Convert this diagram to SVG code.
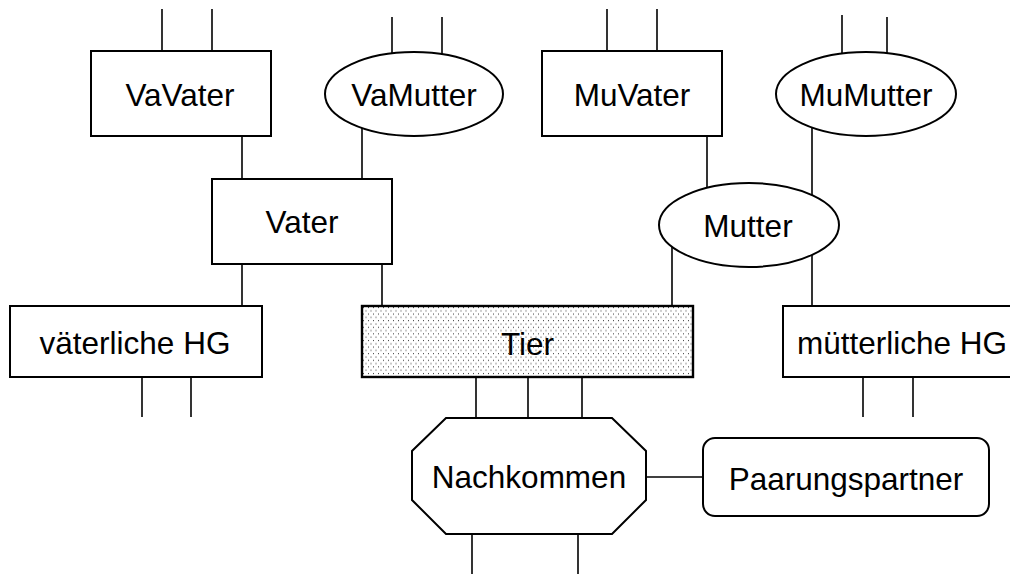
<svg xmlns="http://www.w3.org/2000/svg" width="1010" height="574" viewBox="0 0 1010 574">
<defs>
<pattern id="dots" x="362" y="306" width="5" height="6.6" patternUnits="userSpaceOnUse">
<rect x="1" y="1" width="1" height="1" fill="#333"/>
<rect x="3.5" y="4.3" width="1" height="1" fill="#333"/>
</pattern>
<style>
.n{fill:#fff;stroke:#000;stroke-width:2}
.c line{stroke:#000;stroke-width:1.6}
text{font-family:"Liberation Sans",Arial,sans-serif;font-size:31.5px;fill:#000;text-anchor:middle}
</style>
</defs>
<rect width="1010" height="574" fill="#fff"/>
<g id="connectors" class="c">
<line x1="162" y1="9" x2="162" y2="51"/>
<line x1="212" y1="9" x2="212" y2="51"/>
<line x1="392" y1="17" x2="392" y2="60"/>
<line x1="442" y1="17" x2="442" y2="60"/>
<line x1="607" y1="9" x2="607" y2="51"/>
<line x1="657" y1="9" x2="657" y2="51"/>
<line x1="842" y1="15" x2="842" y2="60"/>
<line x1="887" y1="17" x2="887" y2="60"/>
<line x1="242" y1="136" x2="242" y2="179"/>
<line x1="362" y1="120" x2="362" y2="179"/>
<line x1="707" y1="136" x2="707" y2="200"/>
<line x1="812" y1="120" x2="812" y2="306"/>
<line x1="242" y1="264" x2="242" y2="306"/>
<line x1="382" y1="264" x2="382" y2="306"/>
<line x1="672" y1="240" x2="672" y2="306"/>
<line x1="142" y1="377" x2="142" y2="417"/>
<line x1="191" y1="377" x2="191" y2="417"/>
<line x1="863" y1="377" x2="863" y2="417"/>
<line x1="913" y1="377" x2="913" y2="417"/>
<line x1="476" y1="377" x2="476" y2="418"/>
<line x1="528" y1="377" x2="528" y2="418"/>
<line x1="582" y1="377" x2="582" y2="418"/>
<line x1="472" y1="534" x2="472" y2="574"/>
<line x1="578" y1="534" x2="578" y2="574"/>
<line x1="646" y1="477" x2="703" y2="477"/>
</g>
<g id="VaVater"><rect class="n" x="91" y="51" width="180" height="85"/><text x="180" y="106">VaVater</text></g>
<g id="VaMutter"><ellipse class="n" cx="414" cy="94" rx="89" ry="42"/><text x="414" y="106">VaMutter</text></g>
<g id="MuVater"><rect class="n" x="542" y="51" width="180" height="85"/><text x="632" y="106">MuVater</text></g>
<g id="MuMutter"><ellipse class="n" cx="866" cy="94" rx="90" ry="42"/><text x="866" y="106">MuMutter</text></g>
<g id="Vater"><rect class="n" x="212" y="179" width="180" height="85"/><text x="302" y="233">Vater</text></g>
<g id="Mutter"><ellipse class="n" cx="749" cy="225" rx="90" ry="42"/><text x="748" y="237">Mutter</text></g>
<g id="vaeterliche_HG"><rect class="n" x="10" y="306" width="252" height="71"/><text x="135" y="354">väterliche HG</text></g>
<g id="Tier"><rect x="362" y="306" width="331" height="71" fill="url(#dots)" stroke="#000" stroke-width="2.4"/><text x="527.5" y="355">Tier</text></g>
<g id="muetterliche_HG"><rect class="n" x="783" y="306" width="240" height="71"/><text x="902" y="354">mütterliche HG</text></g>
<g id="Nachkommen"><polygon class="n" points="446,418 612,418 646,451 646,500 612,534 446,534 412,500 412,451"/><text x="529" y="488">Nachkommen</text></g>
<g id="Paarungspartner"><rect class="n" x="703" y="438" width="286" height="78" rx="12" ry="12"/><text x="846" y="490">Paarungspartner</text></g>
</svg>
